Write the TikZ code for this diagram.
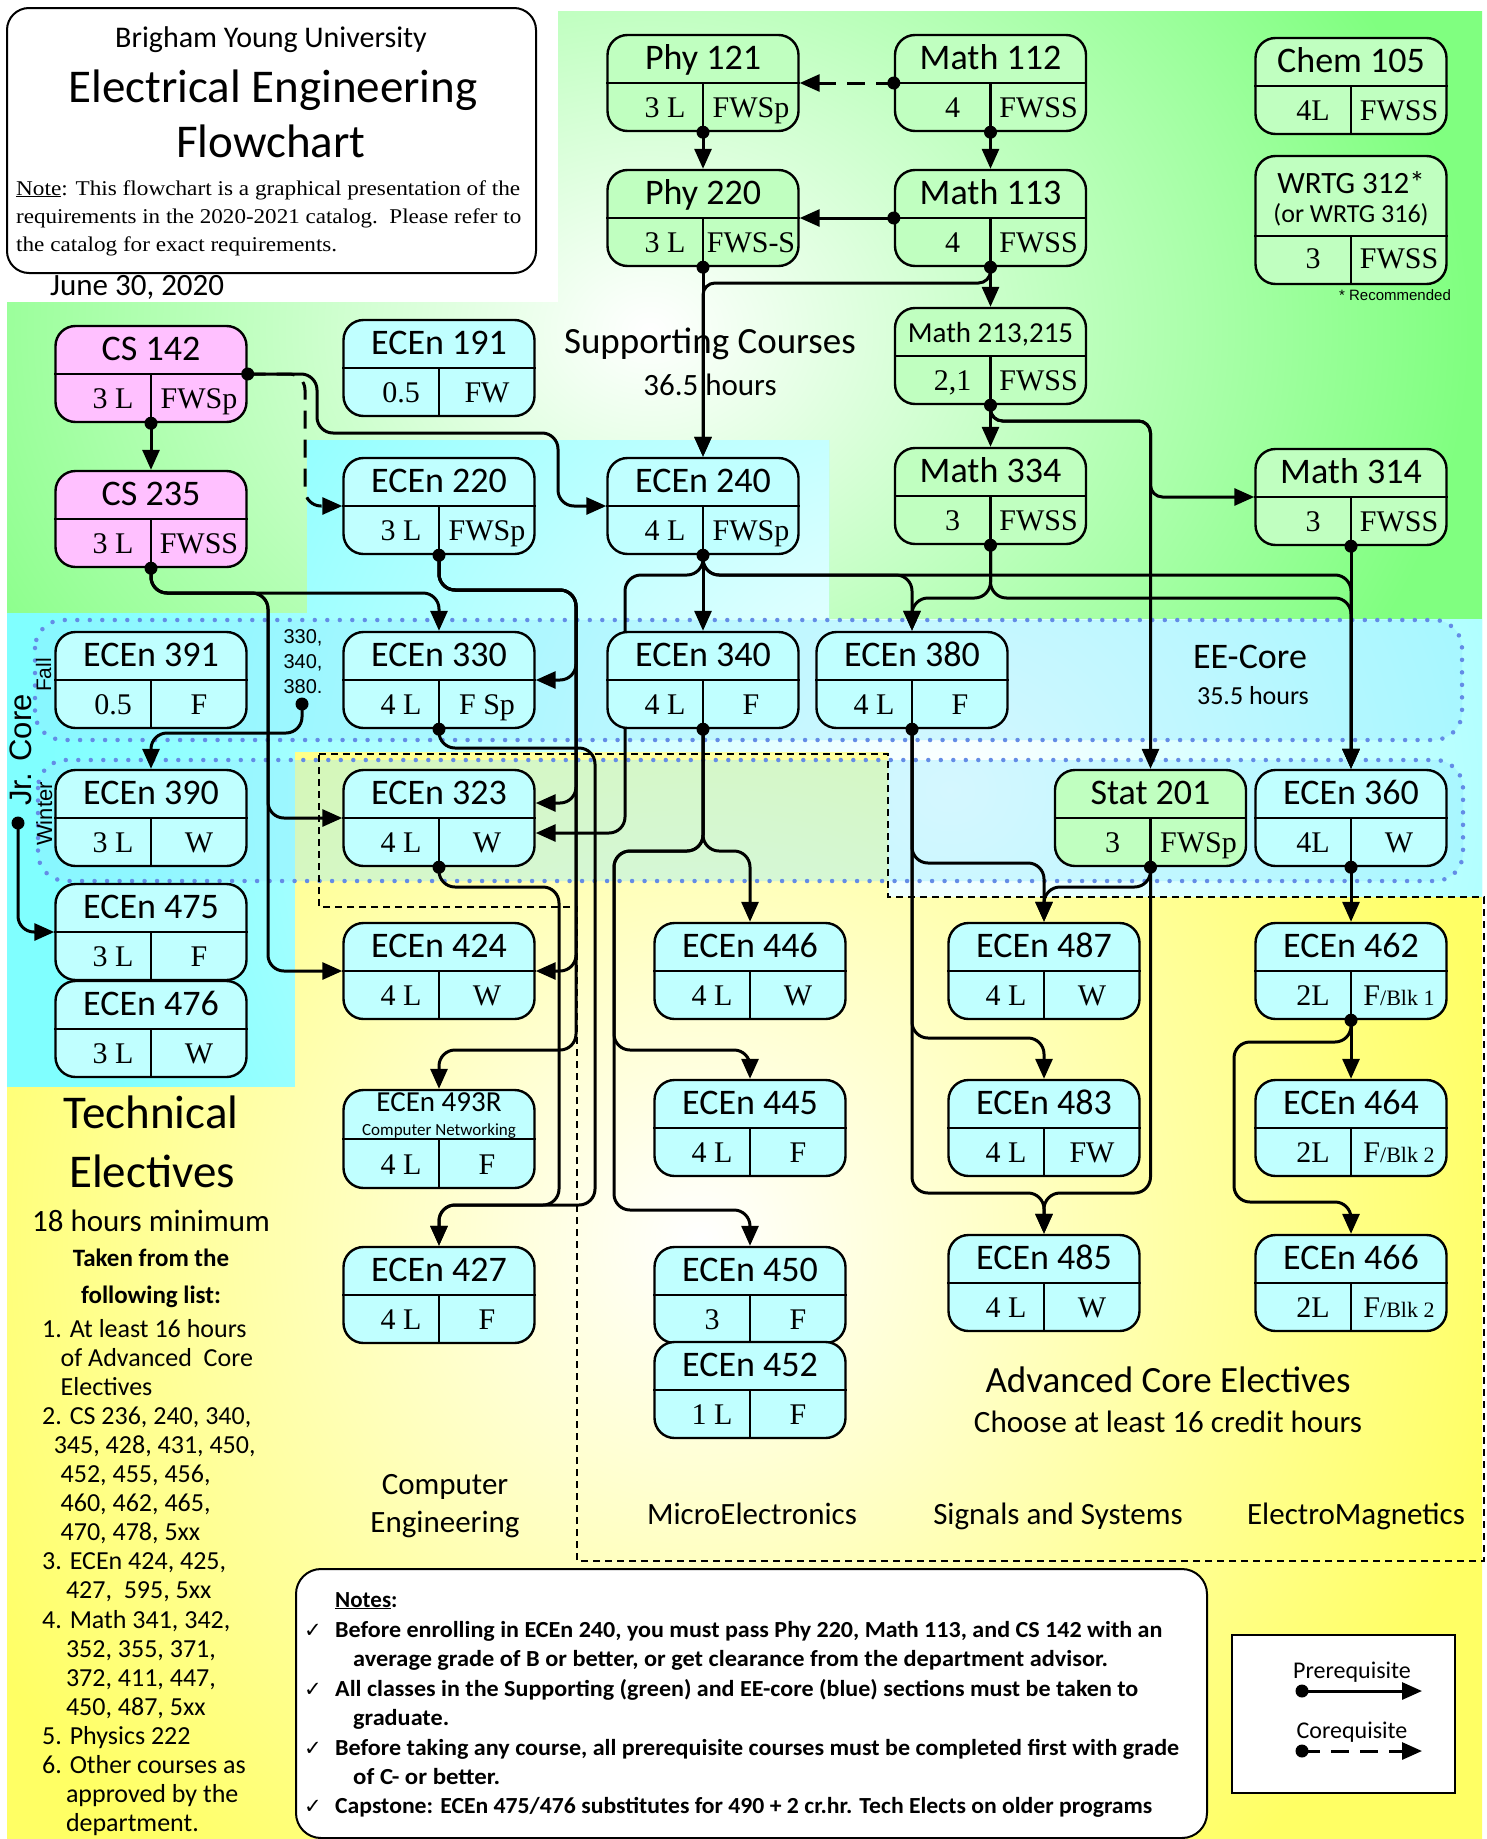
\documentclass[tikz,border=0pt]{standalone}
\usepackage{fontspec}
\usepackage{graphicx}
\setmainfont{Carlito}
\newfontfamily\tnr{Liberation Serif}
\newfontfamily\ars{Liberation Sans}
\newfontfamily\djv{DejaVu Sans}
\usetikzlibrary{arrows.meta,calc}
\definecolor{gC}{RGB}{128,255,128}
\definecolor{bC}{RGB}{128,255,255}
\definecolor{yC}{RGB}{255,255,100}
\definecolor{gBox}{RGB}{192,255,192}
\definecolor{bBox}{RGB}{192,255,255}
\definecolor{pBox}{RGB}{255,192,255}
\definecolor{dotC}{RGB}{100,140,230}
\definecolor{frC}{RGB}{150,235,255}
\newcommand\fsz[1]{\fontsize{#1}{#1}\selectfont}
\pgfdeclarelayer{bg}
\pgfdeclarelayer{cn}
\pgfsetlayers{bg,cn,main}
\tikzset{
  cbox/.style={draw, line width=2.4pt, rounded corners=20pt, minimum width=191pt, minimum height=96pt, inner sep=0pt},
  cline/.style={line width=2.4pt},
  ttl/.style={anchor=base, inner sep=0pt, font=\fsz{36}},
  lowt/.style={anchor=base, inner sep=0pt, font=\tnr\fsz{30}},
  conn/.style={line width=3pt, rounded corners=16pt, -{Triangle[length=20pt,width=17pt]}},
  coreq/.style={conn, dash pattern=on 18pt off 11pt},
  lbl/.style={anchor=base, inner sep=0pt},
  lw/.style={anchor=base west, inner sep=0pt},
  jrframe/.style={rounded corners=28pt, line width=4.5pt, draw=dotC, dash pattern=on 0pt off 12.5pt, line cap=round},
}
\newcommand\crs[7]{%
  \node[cbox,fill=#4] (#1) at (#2,#3+48) {};
  \draw[cline] (#1.west) -- (#1.east) (#1.center) -- (#1.south);
  \node[ttl] at (#2,#3+34) {#5};
  \node[lowt] at (#2-38,#3+82) {#6};
  \node[lowt] at (#2+48,#3+82) {#7};
}
\newcommand\tel[3]{\node[lw,font=\fsz{26}] at (#1,1337+#2*29.1) {#3};}
\begin{document}
\begin{tikzpicture}[x=1pt,y=-1pt]
\useasboundingbox (0,0) rectangle (1486,1839);

\begin{pgfonlayer}{bg}
\fill[white] (0,0) rectangle (1486,1839);
% green region
\begin{scope}
 \clip (558,11) -- (1482,11) -- (1482,619) -- (829,619) -- (829,440) -- (307,440) -- (307,613) -- (7,613) -- (7,302) -- (558,302) -- cycle;
 \fill[gC] (0,0) rectangle (1486,700);
 \shade[inner color=white, outer color=gC] (650,330) ellipse (820pt and 660pt);
\end{scope}
% blue region
\begin{scope}
 \clip (7,613) -- (307,613) -- (307,440) -- (829,440) -- (829,619) -- (1482,619) -- (1482,897) -- (888,897) -- (888,752) -- (295,752) -- (295,1087) -- (7,1087) -- cycle;
 \fill[bC] (0,400) rectangle (1486,1100);
 \shade[inner color=white, outer color=bC] (950,790) ellipse (900pt and 800pt);
\end{scope}
% yellow region
\begin{scope}
 \clip (7,1087) -- (295,1087) -- (295,752) -- (888,752) -- (888,897) -- (1482,897) -- (1482,1839) -- (7,1839) -- cycle;
 \fill[yC] (0,700) rectangle (1486,1839);
 \shade[inner color=white, outer color=yC] (700,1240) ellipse (820pt and 820pt);
\end{scope}
% Jr core frames
\fill[frC, fill opacity=0.4, rounded corners=28pt] (35,620) rectangle (1462,740);
\draw[jrframe] (35,620) rectangle (1462,740);
\fill[frC, fill opacity=0.4, rounded corners=28pt] (38,760) rectangle (1463,881);
\draw[jrframe] (38,760) rectangle (1463,881);
% dashed elective box
\draw[line width=2pt, dash pattern=on 7pt off 5pt] (319,754) -- (888,754) -- (888,897) -- (1484,897) -- (1484,1561) -- (577,1561) -- (577,907) -- (319,907) -- cycle;
% region labels
\node[lbl,font=\fsz{37}] at (710,353) {Supporting Courses};
\node[lbl,font=\fsz{31}] at (710,395) {36.5 hours};
\node[lbl,font=\fsz{36}] at (1250,668) {EE-Core};
\node[lbl,font=\fsz{26}] at (1253,704) {35.5 hours};
\node[lbl,font=\ars\fsz{15}] at (1395,300) {* Recommended};
\node[lbl,font=\ars\fsz{31},rotate=90] at (31,750) {Jr. Core};
\node[lbl,font=\ars\fsz{21},rotate=90] at (51,675) {Fall};
\node[lbl,font=\ars\fsz{22},rotate=90] at (52,814) {Winter};
\node[lbl,font=\ars\fsz{20}] at (303,643) {330,};
\node[lbl,font=\ars\fsz{20}] at (303,668) {340,};
\node[lbl,font=\ars\fsz{20}] at (303,693) {380.};
\end{pgfonlayer}

% title box
\node[draw, line width=2pt, rounded corners=22pt, fill=white, minimum width=529pt, minimum height=265pt, anchor=north west] (title) at (6,7) {};
\node[lbl,font=\fsz{30}] at (271,47) {Brigham Young University};
\node[lbl,font=\fsz{47}] at (273,102) {Electrical Engineering};
\node[lbl,font=\fsz{47}] at (271,157) {Flowchart};
\node[lw,font=\tnr\fsz{21}] at (16,195) {\resizebox{504pt}{\height}{\underline{Note}: This flowchart is a graphical presentation of the}};
\node[lw,font=\tnr\fsz{21}] at (16,223) {\resizebox{505pt}{\height}{requirements in the 2020-2021 catalog.\ \ Please refer to}};
\node[lw,font=\tnr\fsz{21}] at (16,251) {\resizebox{321pt}{\height}{the catalog for exact requirements.}};
\node[lw,font=\fsz{31}] at (50,295) {June 30, 2020};

% course boxes
\crs{phyA}{703}{35}{gBox}{Phy 121}{3 L}{FWSp}
\crs{mathA}{990.5}{35}{gBox}{Math 112}{4}{FWSS}
\crs{chem}{1351}{38}{gBox}{Chem 105}{4L}{FWSS}
\crs{phyB}{703}{170}{gBox}{Phy 220}{3 L}{FWS-S}
\crs{mathB}{990.5}{170}{gBox}{Math 113}{4}{FWSS}
\node[cbox, fill=gBox, minimum height=128pt] (wrtg) at (1351,220) {};
\draw[cline] (wrtg.west |- 0,236) -- (wrtg.east |- 0,236) (1351,236) -- (wrtg.south);
\node[lbl,font=\fsz{31}] at (1351,193) {WRTG 312*};
\node[lbl,font=\fsz{26}] at (1351,222) {(or WRTG 316)};
\node[lowt] at (1313,268) {3};
\node[lowt] at (1399,268) {FWSS};
\crs{cs142}{151}{326}{pBox}{CS 142}{3 L}{FWSp}
\crs{e191}{439}{320}{bBox}{ECEn 191}{0.5}{FW}
\crs{math213}{990.5}{308}{gBox}{{\fsz{29}Math 213,215}}{2,1}{FWSS}
\crs{cs235}{151}{471}{pBox}{CS 235}{3 L}{FWSS}
\crs{e220}{439}{458}{bBox}{ECEn 220}{3 L}{FWSp}
\crs{e240}{703}{458}{bBox}{ECEn 240}{4 L}{FWSp}
\crs{math334}{990.5}{448}{gBox}{Math 334}{3}{FWSS}
\crs{math314}{1351}{449}{gBox}{Math 314}{3}{FWSS}
\crs{e391}{151}{632}{bBox}{ECEn 391}{0.5}{F}
\crs{e330}{439}{632}{bBox}{ECEn 330}{4 L}{F Sp}
\crs{e340}{703}{632}{bBox}{ECEn 340}{4 L}{F}
\crs{e380}{912}{632}{bBox}{ECEn 380}{4 L}{F}
\crs{e390}{151}{770}{bBox}{ECEn 390}{3 L}{W}
\crs{e323}{439}{770}{bBox}{ECEn 323}{4 L}{W}
\crs{stat}{1150.5}{770}{gBox}{Stat 201}{3}{FWSp}
\crs{e360}{1351}{770}{bBox}{ECEn 360}{4L}{W}
\crs{e475}{151}{884}{bBox}{ECEn 475}{3 L}{F}
\crs{e476}{151}{981}{bBox}{ECEn 476}{3 L}{W}
\crs{e424}{439}{923}{bBox}{ECEn 424}{4 L}{W}
\crs{e446}{750}{923}{bBox}{ECEn 446}{4 L}{W}
\crs{e487}{1044}{923}{bBox}{ECEn 487}{4 L}{W}
\crs{e462}{1351}{923}{bBox}{ECEn 462}{2L}{F{\fsz{22}/Blk 1}}
\node[cbox, fill=bBox, minimum height=98pt] (e493) at (439,1139) {};
\draw[cline] (e493.west) -- (e493.east) (e493.center) -- (e493.south);
\node[lbl,font=\fsz{29}] at (439,1111) {ECEn 493R};
\node[lbl,font=\fsz{17}] at (439,1135) {Computer Networking};
\node[lowt] at (401,1174) {4 L};
\node[lowt] at (487,1174) {F};
\crs{e445}{750}{1080}{bBox}{ECEn 445}{4 L}{F}
\crs{e483}{1044}{1080}{bBox}{ECEn 483}{4 L}{FW}
\crs{e464}{1351}{1080}{bBox}{ECEn 464}{2L}{F{\fsz{22}/Blk 2}}
\crs{e427}{439}{1247}{bBox}{ECEn 427}{4 L}{F}
\crs{e450}{750}{1247}{bBox}{ECEn 450}{3}{F}
\crs{e452}{750}{1342}{bBox}{ECEn 452}{1 L}{F}
\crs{e485}{1044}{1235}{bBox}{ECEn 485}{4 L}{W}
\crs{e466}{1351}{1235}{bBox}{ECEn 466}{2L}{F{\fsz{22}/Blk 2}}

\coordinate (jrdot) at (302,704);
\coordinate (jcdot) at (18,823);

% connectors
\begin{pgfonlayer}{cn}
\draw[coreq] (mathA.west) -- (phyA.east);
\draw[conn] (phyA.south) -- (phyB.north);
\draw[conn] (mathA.south) -- (mathB.north);
\draw[conn] (mathB.west) -- (phyB.east);
\draw[conn] (mathB.south) -- (math213.north);
\draw[conn,rounded corners=12pt] (mathB.south) |- (703,283) -- (e240.north);
\draw[conn] (phyB.south) -- (e240.north);
\draw[conn] (math213.south) -- (math334.north);
\draw[conn,rounded corners=12pt] (math213.south) |- (1150.5,421) |- (math314.west);
\draw[conn,rounded corners=12pt] (math213.south) |- (1150.5,421) -- (stat.north);
\draw[conn] (math334.south) |- (912,598) -- (e380.north);
\draw[conn] (math334.south) |- (1351,598) -- (e360.north);
\draw[conn] (math314.south) -- (e360.north);
\draw[conn] (e240.south) -- (e340.north);
\draw[conn] (e240.south) |- (912,575) -- (e380.north);
\draw[conn] (e240.south) |- (1351,575) -- (e360.north);
\draw[conn] (e240.south) |- (625,575) |- ($(e323.east)+(0,15)$);
\draw[conn] (cs142.south) -- (cs235.north);
\draw[conn] (cs142.east) -| (317,433) -| (558,506) -- (e240.west);
\draw[coreq] (cs142.east) -| (305,506) -- (e220.west);
\draw[conn] (cs235.south) |- (439,593) -- (e330.north);
\draw[conn] (cs235.south) |- (268,593) |- (e323.west);
\draw[conn] (cs235.south) |- (268,593) |- (e424.west);
\draw[conn] (e220.south) |- (576,590) |- (e330.east);
\draw[conn] (e220.south) |- (576,590) |- ($(e323.east)+(0,-15)$);
\draw[conn] (e220.south) |- (576,590) |- (e424.east);
\draw[conn] (e220.south) |- (576,590) |- (439,1050) -- (e493.north);
\draw[conn] (e330.south) |- (595,748) |- (439,1205) -- (e427.north);
\draw[conn] (e323.south) |- (559,887) |- (439,1205) -- (e427.north);
\draw[conn] (e340.south) |- (750,851) -- (e446.north);
\draw[conn] (e340.south) |- (614,851) |- (750,1050) -- (e445.north);
\draw[conn] (e340.south) |- (614,851) |- (750,1210) -- (e450.north);
\draw[conn] (e380.south) |- (1044,863) -- (e487.north);
\draw[conn] (e380.south) |- (1044,1038) -- (e483.north);
\draw[conn] (e380.south) |- (1044,1193) -- (e485.north);
\draw[conn] (stat.south) |- (1044,887) -- (e487.north);
\draw[conn] (stat.south) |- (1044,1193) -- (e485.north);
\draw[conn] (e360.south) -- (e462.north);
\draw[conn] (e462.south) -- (e464.north);
\draw[conn] (e462.south) |- (1234,1042) |- (1351,1202) -- (e466.north);
\draw[conn] (jrdot) |- (151,733) -- (e390.north);
\draw[conn] (jcdot) |- (e475.west);
\end{pgfonlayer}

\foreach \p in {phyA.south, mathA.south, mathA.west, mathB.west, mathB.south, phyB.south, math213.south, math334.south, math314.south, cs142.east, cs142.south, cs235.south, e220.south, e240.south, e330.south, e340.south, e380.south, e323.south, stat.south, e360.south, e462.south, jrdot, jcdot}
  \fill (\p) circle (6.5pt);

% technical electives
\node[lbl,font=\fsz{47}] at (151,1128) {Technical};
\node[lbl,font=\fsz{47}] at (152,1187) {Electives};
\node[lbl,font=\fsz{31}] at (151,1231) {18 hours minimum};
\node[lbl,font=\bfseries\fsz{25}] at (151,1266) {Taken from the};
\node[lbl,font=\bfseries\fsz{25}] at (151,1303) {following list:};
\tel{42}{0}{1. At least 16 hours}
\tel{60.5}{1}{of Advanced\ \ Core}
\tel{60.5}{2}{Electives}
\tel{42}{3}{2. CS 236, 240, 340,}
\tel{53.6}{4}{345, 428, 431, 450,}
\tel{60.5}{5}{452, 455, 456,}
\tel{60.5}{6}{460, 462, 465,}
\tel{60.5}{7}{470, 478, 5xx}
\tel{42}{8}{3. ECEn 424, 425,}
\tel{65.8}{9}{427,\ \ 595, 5xx}
\tel{42}{10}{4. Math 341, 342,}
\tel{65.8}{11}{352, 355, 371,}
\tel{65.8}{12}{372, 411, 447,}
\tel{65.8}{13}{450, 487, 5xx}
\tel{42}{14}{5. Physics 222}
\tel{42}{15}{6. Other courses as}
\tel{65.8}{16}{approved by the}
\tel{65.8}{17}{department.}

\node[lbl,font=\fsz{31}] at (445,1494) {Computer};
\node[lbl,font=\fsz{31}] at (445,1532) {Engineering};
\node[lbl,font=\fsz{31}] at (752,1524) {MicroElectronics};
\node[lbl,font=\fsz{31}] at (1058,1524) {Signals and Systems};
\node[lbl,font=\fsz{31}] at (1356,1524) {ElectroMagnetics};
\node[lbl,font=\fsz{37}] at (1168,1392) {Advanced Core Electives};
\node[lbl,font=\fsz{31}] at (1168,1432) {Choose at least 16 credit hours};

% notes box
\node[draw, line width=2pt, rounded corners=25pt, fill=white, minimum width=911pt, minimum height=269pt, anchor=north west] (notes) at (295,1568) {};
\node[lw,font=\bfseries\fsz{23}] at (335,1607) {\underline{Notes}:};
\foreach \yy in {1637,1696,1755,1813} \node[lbl,font=\djv\fsz{21}] at (313,\yy) {✓};
\node[lw,font=\bfseries\fsz{23}] at (335,1637) {\resizebox{827pt}{\height}{Before enrolling in ECEn 240, you must pass Phy 220, Math 113, and CS 142 with an}};
\node[lw,font=\bfseries\fsz{23}] at (353,1666) {\resizebox{755pt}{\height}{average grade of B or better, or get clearance from the department advisor.}};
\node[lw,font=\bfseries\fsz{23}] at (335,1696) {\resizebox{803pt}{\height}{All classes in the Supporting (green) and EE-core (blue) sections must be taken to}};
\node[lw,font=\bfseries\fsz{23}] at (353,1725) {\resizebox{96pt}{\height}{graduate.}};
\node[lw,font=\bfseries\fsz{23}] at (335,1755) {\resizebox{844pt}{\height}{Before taking any course, all prerequisite courses must be completed first with grade}};
\node[lw,font=\bfseries\fsz{23}] at (353,1784) {\resizebox{147pt}{\height}{of C- or better.}};
\node[lw,font=\bfseries\fsz{23}] at (335,1813) {\resizebox{817pt}{\height}{Capstone: ECEn 475/476 substitutes for 490 + 2 cr.hr. Tech Elects on older programs}};

% legend
\node[draw, line width=2pt, fill=white, minimum width=223pt, minimum height=158pt, anchor=north west] (legend) at (1231,1634) {};
\node[lbl,font=\fsz{24}] at (1352,1678) {Prerequisite};
\node[lbl,font=\fsz{24}] at (1352,1738) {Corequisite};
\coordinate (lp1) at (1302,1691);
\coordinate (lp2) at (1422,1691);
\coordinate (lc1) at (1302,1751);
\coordinate (lc2) at (1422,1751);
\draw[conn] (lp1) -- (lp2);
\draw[coreq] (lc1) -- (lc2);
\fill (lp1) circle (6.5pt);
\fill (lc1) circle (6.5pt);
\end{tikzpicture}
\end{document}
